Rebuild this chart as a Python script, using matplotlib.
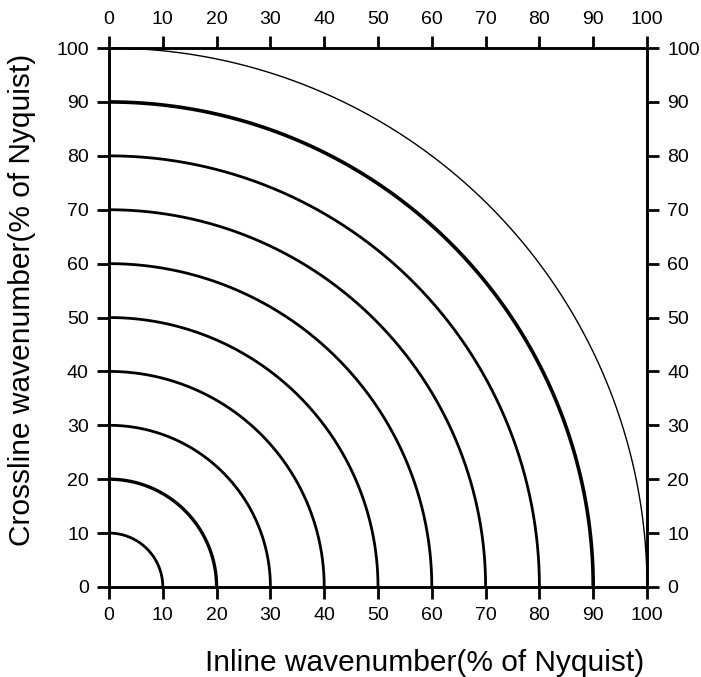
import numpy as np
import matplotlib
matplotlib.use('Agg')
import matplotlib.pyplot as plt

plt.rcParams['font.family'] = ['Liberation Sans', 'DejaVu Sans']

# raios dos arcos (% de Nyquist)
raios = [10, 20, 30, 40, 50, 60, 70, 80, 90, 100]
larguras = [2.0, 2.4, 2.0, 2.0, 2.0, 2.0, 2.0, 2.0, 2.6, 1.0]
ticks = [0, 10, 20, 30, 40, 50, 60, 70, 80, 90, 100]

fig = plt.figure(figsize=(7.01, 6.77), dpi=100)
ax = fig.add_axes([0.1555, 0.133, 0.7675, 0.796])

theta = np.linspace(0, np.pi / 2, 400)
for r, lw in zip(raios, larguras):
    ax.plot(r * np.cos(theta), r * np.sin(theta), color='black', lw=lw,
            solid_capstyle='butt', clip_on=False)

ax.set_xlim(0, 100)
ax.set_ylim(0, 100)
ax.set_xticks(ticks)
ax.set_yticks(ticks)
for s in ax.spines.values():
    s.set_linewidth(2.1)

ax.tick_params(axis='both', which='both', direction='out', length=8.5, width=2.0,
               labelsize=14, top=True, right=True, labeltop=True, labelright=True,
               pad=6)

ax.set_xlabel('Inline wavenumber(% of Nyquist)', fontsize=21.5)
ax.set_ylabel('Crossline wavenumber(% of Nyquist)', fontsize=21.5)
ax.xaxis.set_label_coords(0.587, -0.141)
ax.yaxis.set_label_coords(-0.162, 0.532)
ax.xaxis.label.set_va('center')
ax.yaxis.label.set_va('center')

fig.savefig('out.png', dpi=100)
